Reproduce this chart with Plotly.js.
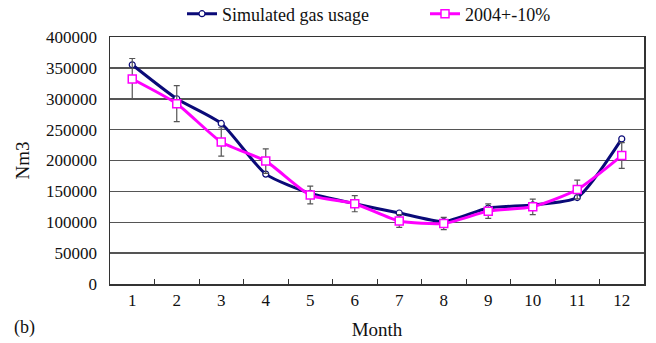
<!DOCTYPE html>
<html>
<head>
<meta charset="utf-8">
<script src="https://cdn.plot.ly/plotly-3.0.1.min.js"></script>
<style>html,body{margin:0;padding:0;background:#fff;}#chart{width:656px;height:343px;}</style>
</head>
<body>
<div id="chart"></div>
<script>
const months = [1,2,3,4,5,6,7,8,9,10,11,12];
const monthLabels = ["1","2","3","4","5","6","7","8","9","10","11","12"];
const simulated = [355000,300000,260000,178000,147000,130000,115000,101000,123000,128000,140000,235000];
const usage2004 = [332000,292000,230000,199000,144000,130000,102000,98000,118000,125000,153000,208000];
const errorPercent = 10;
const yTicks = [0,50000,100000,150000,200000,250000,300000,350000,400000];
const yTickLabels = ["0","50000","100000","150000","200000","250000","300000","350000","400000"];

const font = {family: "Liberation Serif, Times New Roman, serif", color: "#111"};

const traces = [
  {
    x: monthLabels, y: simulated, name: "Simulated gas usage",
    type: "scatter", mode: "lines+markers",
    line: {color: "#0a0a78", width: 3, shape: "spline", smoothing: 0.6},
    marker: {symbol: "circle", size: 6, color: "#fff", line: {color: "#0a0a78", width: 1.2}}
  },
  {
    x: monthLabels, y: usage2004, name: "2004+-10%",
    type: "scatter", mode: "lines+markers",
    line: {color: "#ff00ff", width: 3, shape: "spline", smoothing: 0.6},
    marker: {symbol: "square", size: 8, color: "#fff", line: {color: "#ff00ff", width: 1.5}},
    error_y: {type: "percent", value: errorPercent, color: "#555", thickness: 1.2, width: 3}
  }
];

const layout = {
  width: 656, height: 343,
  margin: {l: 110, r: 12, t: 37, b: 59},
  paper_bgcolor: "#fff", plot_bgcolor: "#fff",
  font: Object.assign({size: 17}, font),
  showlegend: true,
  legend: {orientation: "h", xref: "container", yref: "container", x: 182/656, xanchor: "left",
           y: 1 - 14/343, yanchor: "middle", itemwidth: 30, entrywidth: 198,
           font: Object.assign({size: 18}, font), bgcolor: "rgba(0,0,0,0)"},
  xaxis: {
    type: "category", tickvals: monthLabels, ticktext: monthLabels,
    range: [-0.5, monthLabels.length - 0.5], autorange: false,
    tickson: "boundaries", ticks: "inside", ticklen: 5, tickcolor: "#333",
    showline: true, linecolor: "#333", linewidth: 1.5, mirror: true,
    showgrid: false, zeroline: false,
    tickfont: Object.assign({size: 17}, font),
    title: {text: "Month", font: Object.assign({size: 19}, font), standoff: 14}
  },
  yaxis: {
    range: [0, 400000], tickvals: yTicks, ticktext: yTickLabels,
    ticks: "", showline: true, linecolor: "#333", linewidth: 1.5, mirror: true,
    showgrid: true, gridcolor: "#555", gridwidth: 1.5, zeroline: false,
    tickfont: Object.assign({size: 17}, font), ticklabelstandoff: 8,
    title: {text: "Nm3", font: Object.assign({size: 19}, font), standoff: 11}
  },
  annotations: [
    {text: "(b)", xref: "paper", yref: "paper", x: -0.16, y: -0.175, xanchor: "center", yanchor: "middle",
     showarrow: false, font: Object.assign({size: 18}, font)}
  ]
};

Plotly.newPlot("chart", traces, layout, {displayModeBar: false, staticPlot: true});
</script>
</body>
</html>
